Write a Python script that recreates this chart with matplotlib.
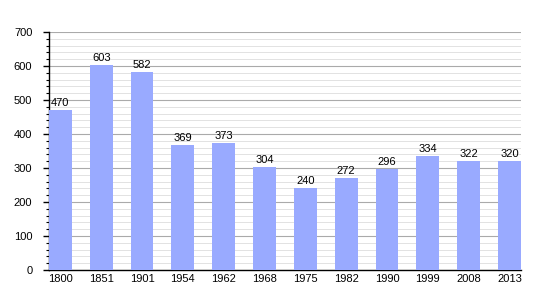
import matplotlib.pyplot as plt
import numpy as np
from matplotlib.ticker import MultipleLocator

plt.rcParams['font.family'] = ['Liberation Sans', 'DejaVu Sans']

years = ['1800', '1851', '1901', '1954', '1962', '1968', '1975', '1982', '1990', '1999', '2008', '2013']
population = [470, 603, 582, 369, 373, 304, 240, 272, 296, 334, 322, 320]

fig = plt.figure(figsize=(5.5, 3), dpi=100)
ax = fig.add_axes([0.089, 0.1, 0.858, 0.793])

x = np.arange(len(years))
ax.bar(x, population, width=0.56, color='#99aaff', zorder=3)
for xi, v in zip(x, population):
    ax.text(xi, v + 6, str(v), ha='center', va='bottom', fontsize=8, zorder=4)

ax.set_xlim(-0.28, 11.28)
ax.set_ylim(0, 700)
ax.set_xticks(x)
ax.set_xticklabels(years, fontsize=8)
ax.yaxis.set_major_locator(MultipleLocator(100))
ax.yaxis.set_minor_locator(MultipleLocator(20))
ax.tick_params(axis='y', labelsize=8, length=4, width=1, pad=8)
ax.tick_params(axis='y', which='minor', length=2, width=0.8)
ax.tick_params(axis='x', length=0, pad=3)

ax.grid(axis='y', which='major', color='#aaaaaa', linewidth=0.8, zorder=0)
ax.grid(axis='y', which='minor', color='#dddddd', linewidth=0.6, zorder=0)

for s in ['top', 'right']:
    ax.spines[s].set_visible(False)
ax.spines['left'].set_linewidth(1)
ax.spines['bottom'].set_linewidth(1)

fig.savefig('out.png', dpi=100)
